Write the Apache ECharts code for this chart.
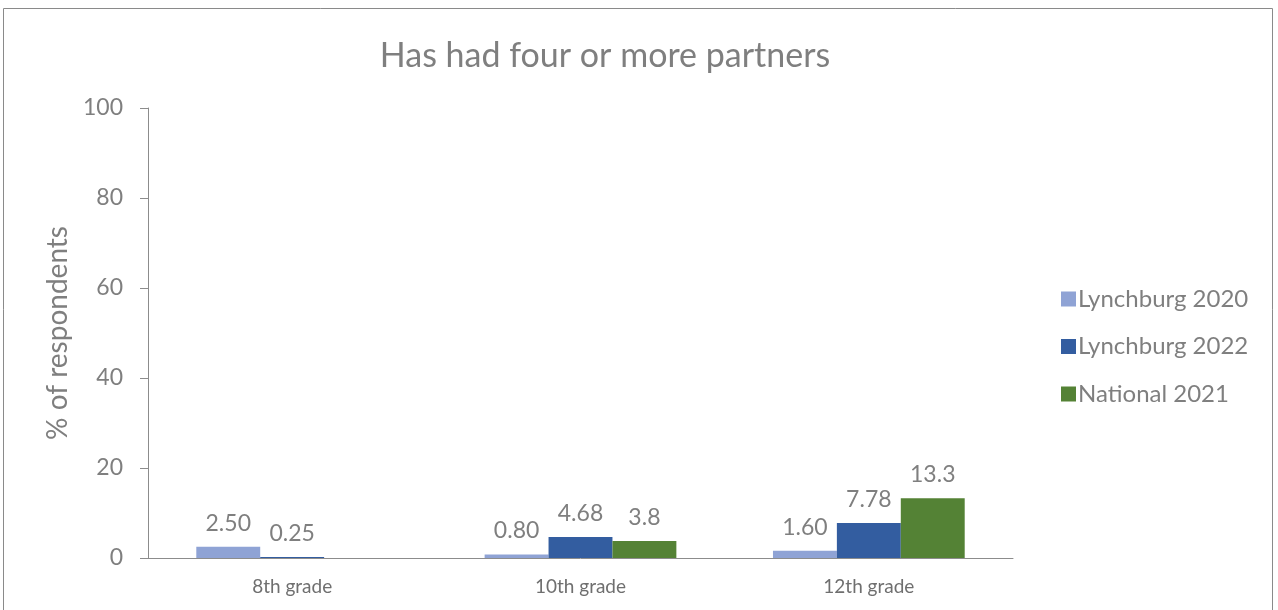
<!DOCTYPE html>
<html>
<head>
<meta charset="utf-8">
<script src="https://cdn.jsdelivr.net/npm/echarts@6/dist/echarts.min.js"></script>
<style>
html,body{margin:0;padding:0;background:#fff;}
#chart{width:1278px;height:610px;}
</style>
</head>
<body>
<div id="chart"></div>
<script>
const categories = ['8th grade', '10th grade', '12th grade'];
const lynchburg2020 = [2.50, 0.80, 1.60];
const lynchburg2022 = [0.25, 4.68, 7.78];
const national2021 = [null, 3.8, 13.3];
const seriesNames = ['Lynchburg 2020', 'Lynchburg 2022', 'National 2021'];
const yTicks = [0, 20, 40, 60, 80, 100];

const FONT = 'Lato, "Open Sans", sans-serif';
const GRAY = '#7f7f7f';
const AXIS = '#8c8c8c';

const chart = echarts.init(document.getElementById('chart'), null, {renderer: 'canvas'});

function lbl(dec) {
  return {
    show: true,
    position: 'top',
    distance: 12,
    color: GRAY,
    fontFamily: FONT,
    fontSize: 23,
    formatter: p => (p.value == null ? '' : Number(p.value).toFixed(dec))
  };
}

chart.setOption({
  animation: false,
  backgroundColor: '#fff',
  graphic: [{
    type: 'rect',
    shape: {x: 3.5, y: 8.5, width: 1269, height: 700},
    style: {fill: 'none', stroke: '#8a8a8a', lineWidth: 1},
    silent: true,
    z: 0
  }],
  title: {
    text: 'Has had four or more partners',
    left: 600,
    textAlign: 'center',
    top: 34,
    textStyle: {color: GRAY, fontFamily: FONT, fontSize: 34, fontWeight: 'normal'}
  },
  legend: {
    orient: 'vertical',
    left: 1056,
    top: 282,
    itemWidth: 15,
    itemHeight: 15,
    itemGap: 23.5,
    icon: 'rect',
    textStyle: {color: GRAY, fontFamily: FONT, fontSize: 24, lineHeight: 24, padding: [0, 0, 0, -3]},
    data: seriesNames
  },
  grid: {left: 148, right: 265, top: 108, bottom: 52, containLabel: false},
  xAxis: {
    type: 'category',
    data: categories,
    axisLine: {show: true, lineStyle: {color: AXIS, width: 1}},
    axisTick: {show: false},
    axisLabel: {color: '#6f6f6f', fontFamily: FONT, fontSize: 19, margin: 19}
  },
  yAxis: {
    type: 'value',
    min: 0,
    max: 100,
    interval: 20,
    name: '% of respondents',
    nameLocation: 'middle',
    nameGap: 76,
    nameRotate: 90,
    nameTextStyle: {color: GRAY, fontFamily: FONT, fontSize: 28},
    axisLine: {show: true, lineStyle: {color: AXIS, width: 1}},
    axisTick: {show: true, length: 8, lineStyle: {color: AXIS}},
    splitLine: {show: false},
    axisLabel: {
      color: GRAY, fontFamily: FONT, fontSize: 23, margin: 25,
      formatter: v => (yTicks.includes(v) ? String(v) : '')
    }
  },
  series: [
    {name: seriesNames[0], type: 'bar', data: lynchburg2020, barGap: '0%', barCategoryGap: '33.5%',
     itemStyle: {color: '#8fa3d5'}, label: lbl(2)},
    {name: seriesNames[1], type: 'bar', data: lynchburg2022, barGap: '0%', barCategoryGap: '33.5%',
     itemStyle: {color: '#335da0'}, label: lbl(2)},
    {name: seriesNames[2], type: 'bar', data: national2021, barGap: '0%', barCategoryGap: '33.5%',
     itemStyle: {color: '#548235'}, label: lbl(1)}
  ]
});
</script>
</body>
</html>
